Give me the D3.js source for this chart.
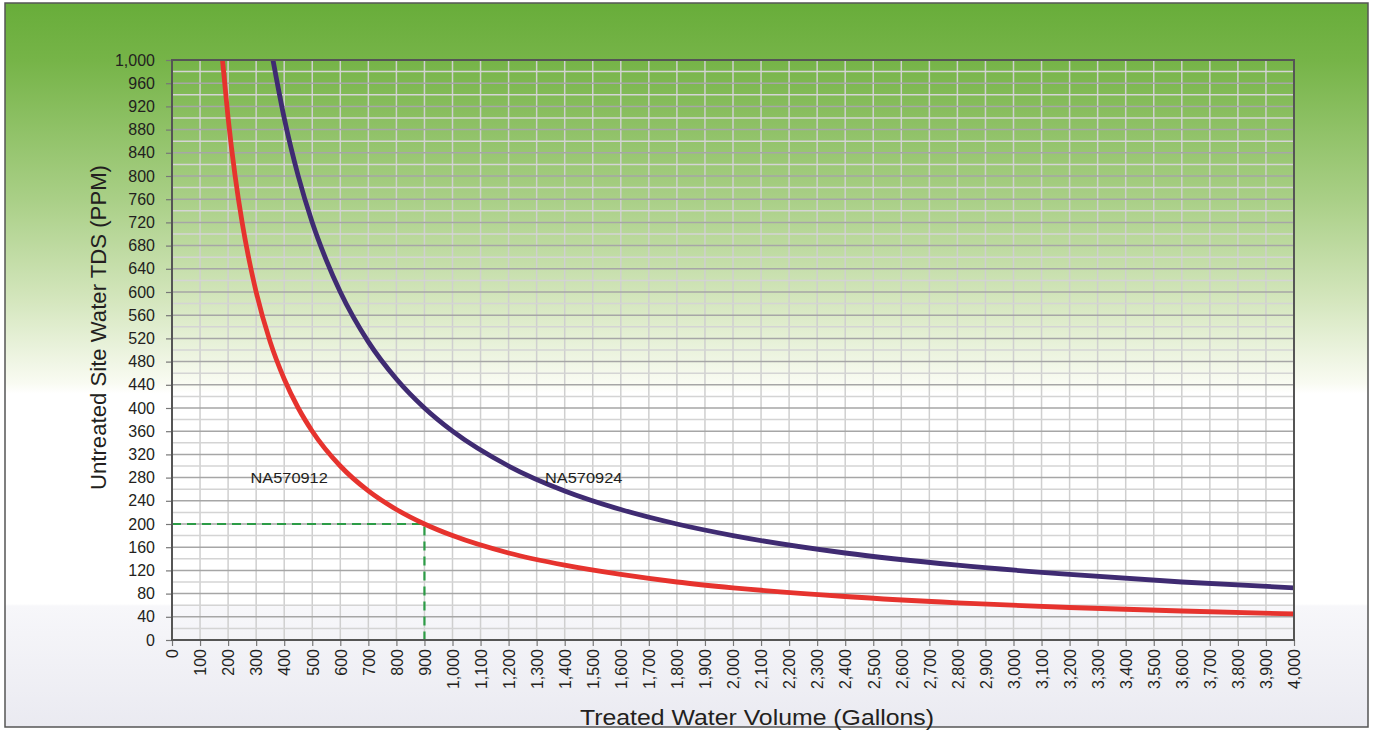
<!DOCTYPE html>
<html>
<head>
<meta charset="utf-8">
<script src="https://cdn.jsdelivr.net/npm/d3@7"></script>
<style>
  html, body { margin: 0; padding: 0; background: #ffffff; }
  svg { display: block; }
</style>
</head>
<body>
<svg id="chart" width="1375" height="731"></svg>
<script>
// ---- data ----
const xTicks = d3.range(0, 4001, 100);
const yTicks = d3.range(0, 1001, 40);
const yGrid = d3.range(0, 1001, 20);
const seriesNames = ["NA570912", "NA570924"];
const redGallons = [180, 200, 225, 250, 275, 300, 350, 400, 450, 500, 600, 700, 800, 900, 1000, 1200, 1400, 1600, 1800, 2000, 2400, 2800, 3200, 3600, 4000];
const redPPM     = [1000, 900, 800, 720, 655, 600, 514, 450, 400, 360, 300, 257, 225, 200, 180, 150, 129, 113, 100, 90, 75, 64, 56, 50, 45];
const blueGallons = [360, 400, 450, 500, 550, 600, 700, 800, 900, 1000, 1200, 1400, 1600, 1800, 2000, 2400, 2800, 3200, 3600, 4000];
const bluePPM     = [1000, 900, 800, 720, 655, 600, 514, 450, 400, 360, 300, 257, 225, 200, 180, 150, 129, 113, 100, 90];
const labelPoints = [{name: "NA570912", gal: 280, ppm: 280}, {name: "NA570924", gal: 1330, ppm: 280}];
const markerPoint = {gal: 900, ppm: 200};
const xTitle = "Treated Water Volume (Gallons)";
const yTitle = "Untreated Site Water TDS (PPM)";

(function () {
// ---- layout ----
const svg = d3.select("#chart");
const pL = 172, pR = 1294, pT = 60, pB = 640;
const x = d3.scaleLinear().domain([0, 4000]).range([pL, pR]);
const y = d3.scaleLinear().domain([0, 1000]).range([pB, pT]);
const fmt = d3.format(",");
const FONT = "'Liberation Sans', Arial, sans-serif";
const TEXT = "#231f20";
function widen(sel, k) {
  sel.each(function () {
    const len = this.getComputedTextLength();
    d3.select(this).attr("textLength", len * k).attr("lengthAdjust", "spacingAndGlyphs");
  });
}

// background gradient
const defs = svg.append("defs");
const grad = defs.append("linearGradient").attr("id", "bg").attr("x1", 0).attr("y1", 0).attr("x2", 0).attr("y2", 1);
[[0, "#68ad3a"], [0.08, "#76b448"], [0.27, "#a9cf86"], [0.41, "#d4e6bd"], [0.525, "#f9fbf2"], [0.54, "#ffffff"],
 [0.83, "#ffffff"], [0.833, "#f7f7fa"], [1, "#eaeaf1"]].forEach(([o, c]) =>
  grad.append("stop").attr("offset", o).attr("stop-color", c));
svg.append("rect").attr("x", 5).attr("y", 3).attr("width", 1363).attr("height", 724)
  .attr("fill", "url(#bg)").attr("stroke", "#555").attr("stroke-width", 1.5);

defs.append("clipPath").attr("id", "plotclip").append("rect")
  .attr("x", pL).attr("y", pT).attr("width", pR - pL).attr("height", pB - pT);

// grid
const g = svg.append("g");
g.selectAll("line.vg").data(xTicks).join("line")
  .attr("x1", d => x(d)).attr("x2", d => x(d)).attr("y1", pT).attr("y2", pB)
  .attr("stroke", "#cfcfcf").attr("stroke-width", 1.5);
g.selectAll("line.hg").data(yGrid).join("line")
  .attr("x1", pL).attr("x2", pR).attr("y1", d => y(d)).attr("y2", d => y(d))
  .attr("stroke", d => d % 40 === 0 ? "#a6a6a6" : "#d4d4d4").attr("stroke-width", 1.5);

// axes
const yAxis = d3.axisLeft(y).tickValues(yTicks).tickFormat(fmt).tickSize(6).tickPadding(11);
const yg = svg.append("g").attr("transform", `translate(${pL},0)`).call(yAxis);
const xAxis = d3.axisBottom(x).tickValues(xTicks).tickFormat(fmt).tickSize(6).tickPadding(4);
const xg = svg.append("g").attr("transform", `translate(0,${pB})`).call(xAxis);
[yg, xg].forEach(ax => {
  ax.select(".domain").remove();
  ax.selectAll(".tick line").attr("stroke", "#777").attr("stroke-width", 1.2);
  ax.selectAll("text").attr("fill", TEXT).style("font-family", FONT).style("font-size", "16px");
});
xg.selectAll("text")
  .attr("transform", "rotate(-90)")
  .attr("text-anchor", "end")
  .attr("x", -9).attr("y", 0).attr("dy", "0.36em");

// dashed marker lines
svg.append("path")
  .attr("d", d3.line()([[x(0), y(markerPoint.ppm)], [x(markerPoint.gal), y(markerPoint.ppm)], [x(markerPoint.gal), y(0)]]))
  .attr("fill", "none").attr("stroke", "#2c9c46").attr("stroke-width", 2.2).attr("stroke-dasharray", "9,6");

// curves
const line = d3.line().x(d => x(d[0])).y(d => y(d[1])).curve(d3.curveMonotoneX);
const curves = svg.append("g").attr("clip-path", "url(#plotclip)");
curves.append("path").datum(blueGallons.map((v, i) => [v, bluePPM[i]]))
  .attr("d", line).attr("fill", "none").attr("stroke", "#3f2b72").attr("stroke-width", 4.8);
curves.append("path").datum(redGallons.map((v, i) => [v, redPPM[i]]))
  .attr("d", line).attr("fill", "none").attr("stroke", "#e6332e").attr("stroke-width", 4.8);

// frame
svg.append("rect").attr("x", pL).attr("y", pT).attr("width", pR - pL).attr("height", pB - pT)
  .attr("fill", "none").attr("stroke", "#555").attr("stroke-width", 2);

// series labels
const sl = svg.selectAll("text.slab").data(labelPoints).join("text")
  .attr("x", d => x(d.gal)).attr("y", d => y(d.ppm) + 5)
  .attr("fill", TEXT).style("font-family", FONT).style("font-size", "15px")
  .text(d => d.name);
widen(sl, 1.09);

// axis titles
svg.append("text").attr("x", (580 + 934) / 2).attr("y", 725).attr("text-anchor", "middle")
  .attr("fill", TEXT).style("font-family", FONT).style("font-size", "22px")
  .attr("textLength", 354).attr("lengthAdjust", "spacingAndGlyphs").text(xTitle);
svg.append("text").attr("transform", `translate(106,${(165 + 490) / 2}) rotate(-90)`).attr("text-anchor", "middle")
  .attr("fill", TEXT).style("font-family", FONT).style("font-size", "22px")
  .attr("textLength", 325).attr("lengthAdjust", "spacingAndGlyphs").text(yTitle);
})();
</script>
</body>
</html>
